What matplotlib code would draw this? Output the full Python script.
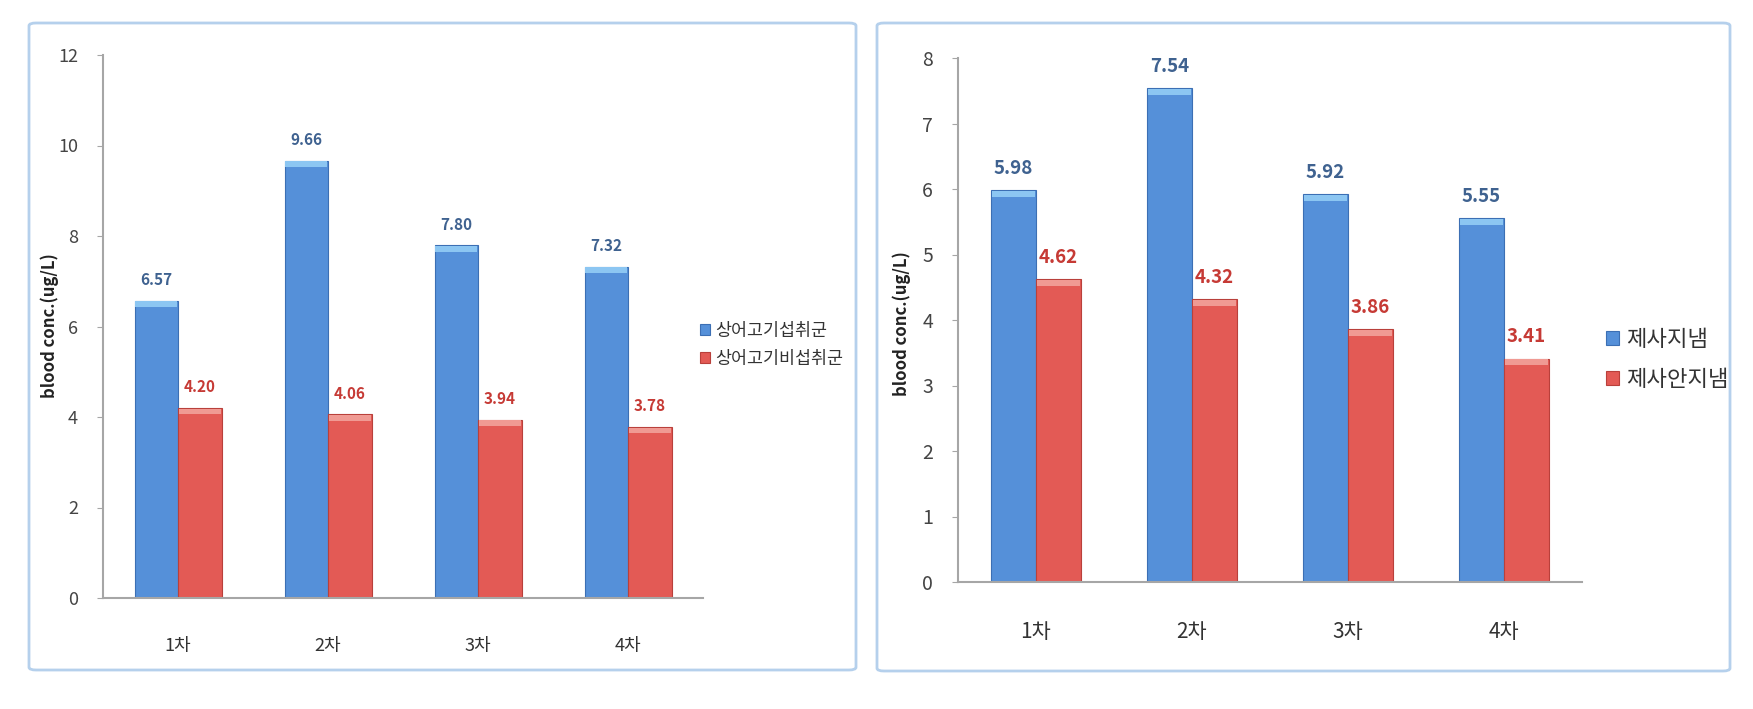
import numpy as np
import matplotlib
matplotlib.use("Agg")
from matplotlib import pyplot as plt
from matplotlib.patches import FancyBboxPatch

plt.rcParams['font.family'] = ['Noto Sans CJK KR', 'DejaVu Sans']

# data
rounds = ['1차', '2차', '3차', '4차']
shark_eat = [6.57, 9.66, 7.80, 7.32]
shark_no = [4.20, 4.06, 3.94, 3.78]
rite_yes = [5.98, 7.54, 5.92, 5.55]
rite_no = [4.62, 4.32, 3.86, 3.41]

BLUE = '#5590d9'
BLUE_TOP = '#8cc6f2'
BLUE_EDGE = '#3c6fb4'
RED = '#e35a55'
RED_TOP = '#f09a93'
RED_EDGE = '#b9403b'
BLUE_TXT = '#3f6290'
RED_TXT = '#c63a35'
AXIS = '#a6a6a6'

fig = plt.figure(figsize=(17.53, 7.09), dpi=100)
W, H = 1753.0, 709.0


def px(x0, y0, x1, y1):
    # pixel box -> figure fraction [left, bottom, width, height]
    return [x0 / W, 1 - y1 / H, (x1 - x0) / W, (y1 - y0) / H]


# panel frames
for (x0, y0, x1, y1) in [(29, 23, 856, 670), (877, 23, 1730, 671)]:
    b = px(x0, y0, x1, y1)
    fig.patches.append(FancyBboxPatch((b[0], b[1]), b[2], b[3],
                                      boxstyle="round,pad=0,rounding_size=0.004",
                                      transform=fig.transFigure, fill=False,
                                      edgecolor='#b5d0ec', linewidth=2))


def panel(rect, a, b, names, ymax, ystep, tick_fs, lab_fs, val_fs, cap,
          leg_xy, leg_fs, leg_sp, ylab_xy, ylab_fs):
    ax = fig.add_axes(rect)
    x = np.arange(len(rounds))
    w = 0.29
    ax.bar(x - w / 2, a, w, color=BLUE, edgecolor=BLUE_EDGE, linewidth=0.8,
           label=names[0], zorder=2)
    ax.bar(x + w / 2, b, w, color=RED, edgecolor=RED_EDGE, linewidth=0.8,
           label=names[1], zorder=2)
    # lighter cap on top of each bar
    ax.bar(x - w / 2, cap, w * 0.96, bottom=np.array(a) - cap * 1.1,
           color=BLUE_TOP, linewidth=0, zorder=3)
    ax.bar(x + w / 2, cap, w * 0.96, bottom=np.array(b) - cap * 1.1,
           color=RED_TOP, linewidth=0, zorder=3)
    for i in range(len(rounds)):
        ax.annotate(f"{a[i]:.2f}", (x[i] - w / 2, a[i]), xytext=(0, 9),
                    textcoords='offset points', ha='center', va='bottom',
                    fontsize=val_fs, color=BLUE_TXT, fontweight='bold')
        ax.annotate(f"{b[i]:.2f}", (x[i] + w / 2, b[i]), xytext=(0, 9),
                    textcoords='offset points', ha='center', va='bottom',
                    fontsize=val_fs, color=RED_TXT, fontweight='bold')
    ax.set_xlim(-0.5, len(rounds) - 0.5)
    ax.set_ylim(0, ymax)
    ax.set_yticks(np.arange(0, ymax + 0.01, ystep))
    ax.set_xticks(x)
    ax.set_xticklabels(rounds, fontsize=lab_fs, color='#333333')
    ax.tick_params(axis='x', length=0, pad=28)
    ax.tick_params(axis='y', length=4, color=AXIS, labelsize=tick_fs,
                   labelcolor='#444444', pad=14)
    for s in ['top', 'right']:
        ax.spines[s].set_visible(False)
    for s in ['left', 'bottom']:
        ax.spines[s].set_color(AXIS)
        ax.spines[s].set_linewidth(1.5)
    fig.text(ylab_xy[0] / W, 1 - ylab_xy[1] / H, 'blood conc.(ug/L)',
             rotation=90, ha='center', va='center', fontsize=ylab_fs,
             fontweight='bold', color='#222222')
    fig.legend(handles=ax.containers[:2], labels=names,
               loc='upper left',
               bbox_to_anchor=(leg_xy[0] / W, 1 - leg_xy[1] / H),
               frameon=False, fontsize=leg_fs, handlelength=0.6,
               handleheight=0.6, handletextpad=0.3,
               labelspacing=leg_sp, borderaxespad=0, borderpad=0,
               labelcolor='#333333')
    return ax


panel(px(103, 55, 703, 598), shark_eat, shark_no,
      ['상어고기섭취군', '상어고기비섭취군'], 12, 2, 13, 13, 11, 0.13,
      (700, 322), 12.5, 0.55, (50, 326), 12)
panel(px(958, 58, 1582, 582), rite_yes, rite_no,
      ['제사지냄', '제사안지냄'], 8, 1, 14, 15, 13.5, 0.09,
      (1606, 328), 16, 0.75, (902, 324), 12)

fig.savefig('out.png', dpi=100)
